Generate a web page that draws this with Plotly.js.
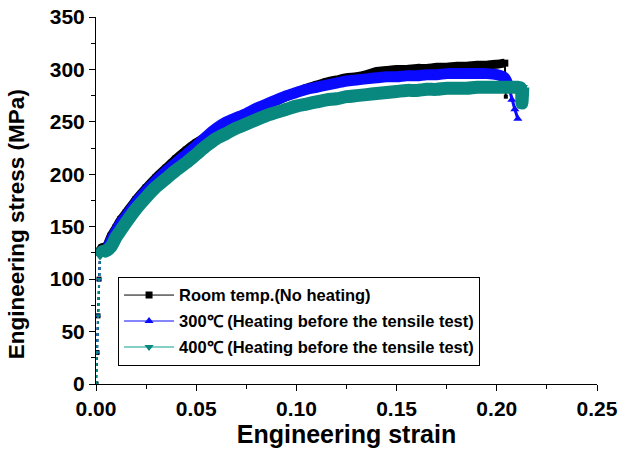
<!DOCTYPE html>
<html>
<head>
<meta charset="utf-8">
<script src="https://cdn.plot.ly/plotly-3.0.1.min.js"></script>
<style>html,body{margin:0;padding:0;background:#fff;}#chart{width:620px;height:453px;}</style>
</head>
<body>
<div id="chart"></div>
<script>
const seriesNames = ["Room temp.(No heating)", "300\u2103 (Heating before the tensile test)", "400\u2103 (Heating before the tensile test)"];
const xTitle = "Engineering strain";
const yTitle = "Engineering stress (MPa)";

const strainRoom = [0, 0.0005, 0.001, 0.0015, 0.002, 0.003, 0.005, 0.0075, 0.01, 0.0125, 0.015, 0.02, 0.025, 0.03, 0.035, 0.04, 0.045, 0.05, 0.055, 0.06, 0.065, 0.07, 0.075, 0.08, 0.085, 0.09, 0.095, 0.10, 0.105, 0.11, 0.115, 0.12, 0.125, 0.13, 0.135, 0.14, 0.145, 0.15, 0.155, 0.16, 0.165, 0.17, 0.175, 0.18, 0.185, 0.19, 0.195, 0.20, 0.204, 0.2045];
const stressRoom = [0, 30, 65, 100, 127, 130, 131, 141, 149, 157, 163, 176, 187, 197, 206, 215, 223, 230, 236, 241, 246, 251, 256, 261, 266, 270, 274, 278, 282, 285, 288, 290, 292, 293, 295, 298, 299, 300, 300, 301, 301, 302, 302, 303, 303, 304, 304, 305, 306, 274];

const strain300 = [0, 0.0005, 0.001, 0.0015, 0.002, 0.003, 0.005, 0.0075, 0.01, 0.0125, 0.015, 0.02, 0.025, 0.03, 0.035, 0.04, 0.045, 0.05, 0.055, 0.06, 0.065, 0.07, 0.075, 0.08, 0.085, 0.09, 0.095, 0.10, 0.105, 0.11, 0.115, 0.12, 0.125, 0.13, 0.135, 0.14, 0.145, 0.15, 0.155, 0.16, 0.165, 0.17, 0.175, 0.18, 0.185, 0.19, 0.195, 0.20, 0.204, 0.206, 0.2075, 0.209, 0.2105];
const stress300 = [0, 30, 65, 100, 124, 127, 128, 137, 146, 154, 160, 173, 184, 194, 203, 211, 219, 227, 236, 244, 250, 254, 258, 263, 267, 271, 275, 278, 281, 283, 285, 287, 289, 290, 291, 292, 293, 293, 294, 294, 295, 295, 296, 296, 296, 296, 296, 295, 292, 283, 271, 262, 253];

const strain400 = [0, 0.0005, 0.001, 0.0015, 0.002, 0.003, 0.005, 0.0075, 0.01, 0.0125, 0.015, 0.02, 0.025, 0.03, 0.035, 0.04, 0.045, 0.05, 0.055, 0.06, 0.065, 0.07, 0.075, 0.08, 0.085, 0.09, 0.095, 0.10, 0.105, 0.11, 0.115, 0.12, 0.125, 0.13, 0.135, 0.14, 0.145, 0.15, 0.155, 0.16, 0.165, 0.17, 0.175, 0.18, 0.185, 0.19, 0.195, 0.20, 0.205, 0.21, 0.212, 0.2125, 0.213];
const stress400 = [0, 30, 65, 100, 122, 126, 127, 131, 140, 147, 154, 167, 178, 188, 196, 204, 211, 219, 227, 234, 239, 244, 248, 252, 256, 259, 262, 265, 267, 269, 271, 272, 274, 275, 276, 277, 278, 279, 280, 280, 281, 281, 282, 282, 282, 283, 283, 283, 283, 283, 282, 268, 283];

const xTickVals = [0, 0.05, 0.10, 0.15, 0.20, 0.25];
const yTickVals = [0, 50, 100, 150, 200, 250, 300, 350];

const colBlack = "#000000", colBlue = "#0a0aff", colTeal = "#08887e", colTealLight = "#86cfc8";
const FONT = "Liberation Sans, Arial, sans-serif";

// split: elastic part (thin) up to elasticEnd, thick band in between, fracture tail (thin)
function parts(xs, ys, elasticEnd, tailStart) {
  const thinX = xs.slice(0, elasticEnd + 1), thinY = ys.slice(0, elasticEnd + 1);
  const tailX = xs.slice(Math.max(tailStart - 1, elasticEnd)), tailY = ys.slice(Math.max(tailStart - 1, elasticEnd));
  return {thinX, thinY, tailX: tailStart < xs.length ? tailX : [], tailY: tailStart < xs.length ? tailY : [],
          bandX: xs.slice(elasticEnd, tailStart), bandY: ys.slice(elasticEnd, tailStart)};
}
const pR = parts(strainRoom, stressRoom, 4, strainRoom.length - 1);
const pB = parts(strain300, stress300, 4, strain300.length - 3);
const pT = parts(strain400, stress400, 4, strain400.length);

const series = [
  {p: pR, color: colBlack, w: 9, sym: "square", ms: 7, tailW: 2, tailMs: 4},
  {p: pB, color: colBlue, w: 11, sym: "triangle-up", ms: 8, tailW: 3, tailMs: 8},
  {p: pT, color: colTeal, w: 13, sym: "triangle-down", ms: 9, tailW: 3, tailMs: 8}
];
const traces = [];
series.forEach(s => {
  traces.push({x: s.p.bandX, y: s.p.bandY, mode: "lines+markers", showlegend: false,
    line: {color: s.color, width: s.w, shape: "spline", smoothing: 0.8},
    marker: {symbol: s.sym, size: s.ms, color: s.color}});
  traces.push({x: s.p.thinX, y: s.p.thinY, mode: "lines+markers", showlegend: false,
    line: {color: s.color, width: 2, dash: "dot"},
    marker: {symbol: s.sym, size: 5, color: s.color}});
  if (s.p.tailX.length) {
    traces.push({x: s.p.tailX, y: s.p.tailY, mode: "lines+markers", showlegend: false,
      line: {color: s.color, width: s.tailW},
      marker: {symbol: s.sym, size: s.tailMs, color: s.color}});
  }
});
traces.push(
  {x: [null], y: [null], name: seriesNames[0], mode: "lines+markers", legendgroup: "a",
   line: {color: colBlack, width: 1}, marker: {symbol: "square", size: 7, color: colBlack}},
  {x: [null], y: [null], name: seriesNames[1], mode: "lines+markers", legendgroup: "b",
   line: {color: colBlue, width: 1}, marker: {symbol: "triangle-up", size: 8, color: colBlue}},
  {x: [null], y: [null], name: seriesNames[2], mode: "lines+markers", legendgroup: "c",
   line: {color: colTealLight, width: 2}, marker: {symbol: "triangle-down", size: 8, color: colTeal}}
);

const layout = {
  width: 620, height: 453,
  margin: {l: 96, r: 23, t: 17, b: 69},
  paper_bgcolor: "#fff", plot_bgcolor: "#fff",
  font: {family: FONT, color: "#000"},
  showlegend: true,
  legend: {x: 0.044, y: 0.292, xanchor: "left", yanchor: "top",
    bgcolor: "#fff", bordercolor: "#000", borderwidth: 1,
    font: {family: FONT, size: 16.5, weight: "bold", color: "#000"},
    itemwidth: 50, tracegroupgap: 1.5, traceorder: "grouped"},
  xaxis: {range: [0, 0.25], tickvals: xTickVals, tickformat: ".2f",
    showline: true, linecolor: "#000", linewidth: 1, ticks: "outside", ticklen: 6, tickcolor: "#000",
    minor: {dtick: 0.025, ticks: "outside", ticklen: 4, tickcolor: "#000"},
    showgrid: false, zeroline: false, mirror: false,
    tickfont: {family: FONT, size: 21, weight: "bold", color: "#000"},
    title: {text: xTitle, font: {family: FONT, size: 25, weight: "bold", color: "#000"}, standoff: 6}},
  yaxis: {range: [0, 350], tickvals: yTickVals,
    showline: true, linecolor: "#000", linewidth: 1, ticks: "outside", ticklen: 6, tickcolor: "#000",
    minor: {dtick: 25, ticks: "outside", ticklen: 4, tickcolor: "#000"},
    showgrid: false, zeroline: false, mirror: false,
    tickfont: {family: FONT, size: 21, weight: "bold", color: "#000"},
    title: {text: ""}},
  annotations: [{text: yTitle, xref: "paper", yref: "paper", x: -0.158, y: 0.435,
    xanchor: "center", yanchor: "middle", textangle: -90, showarrow: false,
    font: {family: FONT, size: 22.5, weight: "bold", color: "#000"}}]
};

Plotly.newPlot("chart", traces, layout, {displayModeBar: false, staticPlot: true});
</script>
</body>
</html>
